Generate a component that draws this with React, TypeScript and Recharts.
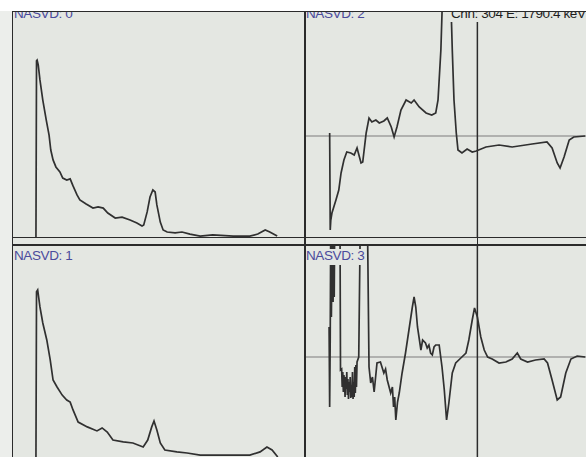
import React from 'react';
import { LineChart, Line, XAxis, YAxis, ReferenceLine } from 'recharts';

const PANEL_BG = '#e4e7e2';
const FRAME = '#2b2b2b';
const TRACE = '#303030';
const LABEL_BLUE = '#4b4b9c';

// NASVD: 0 (top left) - channel / counts (0-100 of panel height)
const nasvd0Channels = [42, 43, 44, 46, 49, 54, 60, 65, 68, 72, 77, 84, 89, 96, 102, 107, 114, 119, 130, 142, 151, 160, 168, 181, 193, 207, 219, 228, 231, 237, 242, 247, 251, 254, 260, 265, 272, 286, 298, 312, 330, 352, 388, 417, 431, 444, 452, 465];
const nasvd0Counts = [0, 78, 78.3, 76.1, 69.5, 60.6, 51.8, 45.1, 38.5, 34.1, 31.0, 28.8, 26.1, 25.2, 25.7, 22.6, 18.6, 16.4, 14.6, 12.8, 13.3, 12.8, 10.6, 8.4, 8.8, 7.5, 6.2, 4.9, 5.3, 11.1, 17.7, 20.8, 19.9, 14.2, 6.6, 3.1, 2.2, 1.8, 2.2, 1.3, 0.4, 0.9, 0.4, 0.4, 1.3, 3.1, 2.2, 0.4];

// NASVD: 1 (bottom left)
const nasvd1Channels = [42, 43, 45, 49, 54, 61, 67, 72, 79, 88, 96, 102, 107, 116, 132, 149, 158, 167, 177, 195, 212, 230, 238, 245, 249, 254, 260, 268, 289, 307, 330, 359, 388, 417, 435, 447, 456, 466];
const nasvd1Counts = [0, 78, 78.8, 70.8, 63.2, 55.2, 45.8, 36.3, 33.0, 29.2, 26.9, 25.9, 22.2, 16.5, 14.2, 12.3, 13.7, 11.8, 8.0, 7.1, 6.6, 4.7, 8.0, 14.2, 17.0, 12.7, 6.6, 3.3, 2.4, 1.9, 0.9, 0.9, 0.9, 0.9, 2.4, 4.7, 3.3, 0];

// NASVD: 2 (top right), signed component
const nasvd2Channels = [45, 46, 47, 49, 56, 61, 65, 70, 75, 82, 88, 93, 100, 103, 109, 114, 119, 126, 132, 140, 146, 153, 158, 163, 170, 179, 188, 193, 202, 214, 224, 231, 235, 240, 242, 246, 254, 258, 260, 263, 267, 270, 277, 286, 295, 302, 319, 342, 365, 400, 426, 435, 444, 449, 456, 465, 473, 493];
const nasvd2Values = [3, -94, -84, -77, -64, -54, -37, -24, -16, -17, -19, -12, -27, -26, 3, 18, 14, 16, 13, 15, 18, 9, -1, 9, 26, 36, 33, 36, 29, 23, 21, 23, 36, 86, 123, 200, 200, 126, 86, 36, 3, -14, -17, -13, -16, -15, -11, -9, -11, -8, -6, -12, -27, -32, -21, -4, -1, 0];

// NASVD: 3 (bottom right), signed component
const nasvd3Channels = [44, 45, 46, 47, 48, 50, 51, 52, 53, 54, 55, 63, 64, 66, 67, 68, 69, 70, 71, 72, 73, 74, 75, 76, 77, 78, 79, 80, 81, 82, 83, 84, 85, 86, 87, 88, 89, 90, 91, 92, 93, 96, 99, 111, 114, 117, 120, 123, 128, 134, 140, 143, 146, 152, 155, 157, 159, 161, 164, 167, 172, 178, 184, 190, 193, 196, 199, 205, 208, 213, 216, 219, 222, 225, 228, 231, 237, 242, 246, 250, 254, 260, 266, 275, 284, 289, 295, 299, 304, 310, 316, 322, 330, 342, 354, 365, 374, 380, 392, 406, 421, 427, 435, 444, 450, 459, 468, 479, 493];
const nasvd3Values = [30, -50, 20, 150, 40, 150, 55, 140, 60, 150, 150, 150, -13, -12, -30, -15, -35, -18, -25, -40, -20, -32, -15, -38, -22, -42, -25, -35, -20, -41, -28, -40, -15, -42, -25, -40, -10, -36, -8, -30, -5, 0, 150, 150, -10, -26, -20, -35, -6, -5, -16, -12, -23, -36, -30, -50, -40, -63, -45, -36, -16, 4, 27, 50, 60, 50, 30, 7, 17, 14, 9, 12, 4, 2, 10, 12, 12, -10, -33, -63, -46, -16, -6, -1, 4, 17, 37, 49, 40, 20, 7, 0, -2, -6, -5, -2, 4, -2, -5, -3, -2, -6, -23, -43, -40, -16, -2, 1, 0];

const CURSOR_CHANNEL = 304;
const CURSOR_TEXT = 'Chn: 304  E: 1790.4 keV';

const toRows = (channels: number[], values: number[]) =>
  channels.map((ch, i) => ({ ch, v: values[i] }));

const labelStyle: React.CSSProperties = {
  position: 'absolute',
  fontFamily: '"Liberation Sans", Arial, sans-serif',
  fontSize: 13.5,
  lineHeight: '13.5px',
  letterSpacing: -0.4,
  background: PANEL_BG,
  whiteSpace: 'nowrap',
  paddingRight: 2,
};

function Panel({
  left,
  top,
  height,
  rows,
  yDomain,
  label,
  labelTop,
  signed,
}: {
  left: number;
  top: number;
  height: number;
  rows: { ch: number; v: number }[];
  yDomain: [number, number];
  label: string;
  labelTop: number;
  signed?: boolean;
}) {
  return (
    <div
      style={{
        position: 'absolute',
        left,
        top,
        width: 292,
        height,
        overflow: 'hidden',
        background: PANEL_BG,
      }}
    >
      <LineChart
        width={292}
        height={height}
        data={rows}
        margin={{ top: 0, right: 0, bottom: 0, left: 0 }}
      >
        <XAxis type="number" dataKey="ch" domain={[0, 512]} hide allowDataOverflow />
        <YAxis type="number" domain={yDomain} hide allowDataOverflow />
        {signed && <ReferenceLine y={0} stroke="#7d7d7d" strokeWidth={1.2} />}
        {signed && (
          <ReferenceLine x={CURSOR_CHANNEL} stroke={FRAME} strokeWidth={1.5} />
        )}
        <Line
          type="linear"
          dataKey="v"
          stroke={TRACE}
          strokeWidth={1.7}
          dot={false}
          isAnimationActive={false}
        />
      </LineChart>
      <div
        style={{
          ...labelStyle,
          left: 2,
          top: labelTop,
          color: LABEL_BLUE,
          paddingBottom: 2,
        }}
      >
        {label}
      </div>
      {signed && labelTop < 0 && (
        <div
          style={{
            ...labelStyle,
            left: 145,
            top: labelTop,
            color: '#1e1e1e',
            paddingLeft: 2,
            paddingBottom: 2,
          }}
        >
          {CURSOR_TEXT}
        </div>
      )}
    </div>
  );
}

export default function App() {
  return (
    <div
      style={{
        position: 'fixed',
        left: 0,
        top: 0,
        width: 586,
        height: 457,
        overflow: 'hidden',
        background: '#eceeeb',
      }}
    >
      <div style={{ position: 'absolute', left: 0, top: 0, width: 586, height: 10.5, background: '#ffffff' }} />
      <Panel left={12} top={11} height={226} rows={toRows(nasvd0Channels, nasvd0Counts)} yDomain={[0, 100]} label="NASVD: 0" labelTop={-4.5} />
      <Panel left={304} top={11} height={226} rows={toRows(nasvd2Channels, nasvd2Values)} yDomain={[-101, 125]} label="NASVD: 2" labelTop={-4.5} signed />
      <Panel left={12} top={245} height={212} rows={toRows(nasvd1Channels, nasvd1Counts)} yDomain={[0, 100]} label="NASVD: 1" labelTop={4} />
      <Panel left={304} top={245} height={212} rows={toRows(nasvd3Channels, nasvd3Values)} yDomain={[-100, 112]} label="NASVD: 3" labelTop={4} signed />
      {/* gap between the two rows */}
      <div style={{ position: 'absolute', left: 12, top: 237, width: 574, height: 8, background: PANEL_BG }} />
      <div style={{ position: 'absolute', left: 476.6, top: 237, width: 1.5, height: 8, background: FRAME }} />
      {/* frame lines */}
      <div style={{ position: 'absolute', left: 12, top: 10.5, width: 574, height: 1.5, background: FRAME }} />
      <div style={{ position: 'absolute', left: 11.5, top: 10.5, width: 1.5, height: 447, background: FRAME }} />
      <div style={{ position: 'absolute', left: 303.5, top: 10.5, width: 2, height: 447, background: FRAME }} />
      <div style={{ position: 'absolute', left: 12, top: 236.5, width: 574, height: 1.5, background: FRAME }} />
      <div style={{ position: 'absolute', left: 12, top: 244, width: 574, height: 1.5, background: FRAME }} />
    </div>
  );
}
